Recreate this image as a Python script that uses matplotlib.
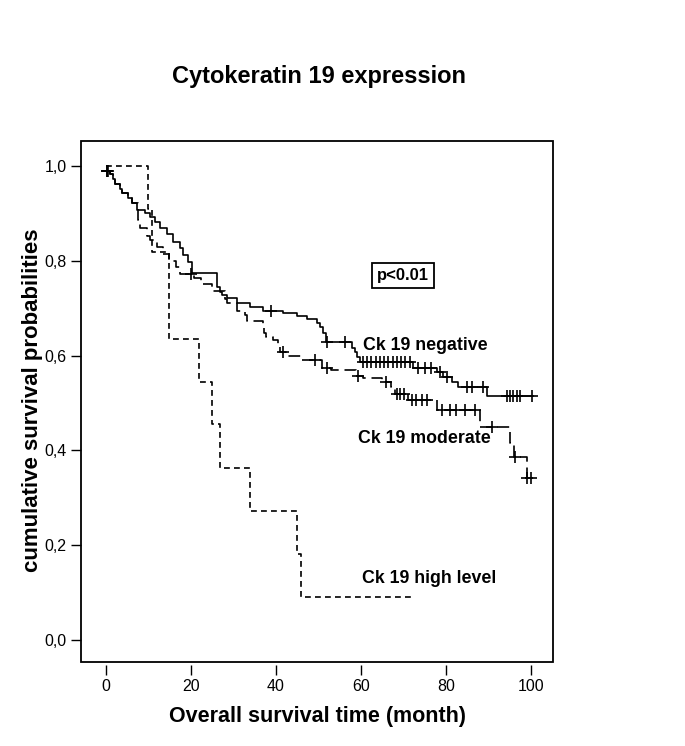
import numpy as np
import matplotlib.pyplot as plt
from matplotlib.patches import Rectangle

plt.rcParams['font.family'] = ['Liberation Sans', 'DejaVu Sans']

# Ck 19 negative (step times / survival after each step)
neg_time = [0, 1.0, 1.7, 2.2, 3.4, 3.9, 5.3, 6.2, 7.4, 9.2,
            10.4, 11.6, 12.8, 14.4, 15.8, 17.5, 18.2, 19.3, 20.3, 26.2,
            26.9, 27.3, 28.5, 30.9, 34.0, 37.0, 41.7, 45.0, 47.3, 49.6,
            50.4, 51.2, 51.8, 57.9, 58.6, 59.2, 59.8, 72.3, 78.0, 79.3,
            81.4, 82.8, 89.6, 100.4]
neg_surv = [0.99, 0.984, 0.972, 0.962, 0.952, 0.943, 0.933, 0.921, 0.908, 0.9,
            0.893, 0.881, 0.869, 0.857, 0.84, 0.826, 0.812, 0.797, 0.775, 0.745,
            0.735, 0.727, 0.721, 0.712, 0.703, 0.695, 0.69, 0.684, 0.677, 0.668,
            0.66, 0.648, 0.628, 0.617, 0.607, 0.597, 0.586, 0.575, 0.565, 0.554,
            0.544, 0.533, 0.514, 0.514]
neg_cens = [0.3, 0.6, 39.0, 52.0, 56.3, 60.5, 61.5, 62.5, 63.5, 64.5, 65.5,
            66.5, 67.5, 68.5, 69.5, 70.5, 71.5, 73.5, 75.0, 76.5, 78.6, 80.2,
            85.0, 86.2, 88.7, 94.3, 95.0, 95.8, 96.7, 97.4, 100.2]

# Ck 19 moderate
mod_time = [0, 1.0, 1.7, 2.2, 3.4, 3.9, 5.3, 6.2, 7.7, 8.0,
            9.7, 10.4, 12.0, 13.5, 15.0, 16.5, 17.5, 20.7, 22.5, 25.0,
            28.0, 28.5, 31.0, 32.8, 33.2, 37.0, 37.3, 37.8, 39.4, 40.5,
            41.0, 42.5, 46.0, 51.0, 53.0, 59.0, 60.5, 65.0, 67.0, 68.0,
            71.0, 78.0, 88.0, 95.0, 96.0, 99.0, 100.5]
mod_surv = [0.99, 0.984, 0.972, 0.962, 0.952, 0.943, 0.933, 0.921, 0.885, 0.87,
            0.853, 0.843, 0.83, 0.815, 0.80, 0.787, 0.773, 0.763, 0.752, 0.737,
            0.72, 0.712, 0.695, 0.685, 0.674, 0.664, 0.647, 0.639, 0.632, 0.622,
            0.607, 0.6, 0.59, 0.575, 0.569, 0.558, 0.553, 0.544, 0.533, 0.52,
            0.506, 0.485, 0.449, 0.415, 0.386, 0.343, 0.343]
mod_cens = [0.3, 20.0, 41.7, 49.2, 52.0, 59.4, 66.0, 68.5, 69.3, 70.2, 72.0,
            73.0, 74.5, 75.5, 79.0, 81.0, 82.5, 84.5, 86.9, 90.8, 96.2, 99.0, 100.0]

# Ck 19 high level
high_time = [0, 10, 11, 15, 22, 25, 27, 34, 45, 46, 72]
high_surv = [1.0, 0.909, 0.818, 0.636, 0.545, 0.455, 0.364, 0.273, 0.182, 0.091, 0.091]

xticks = [0, 20, 40, 60, 80, 100]
yticks = [0.0, 0.2, 0.4, 0.6, 0.8, 1.0]
ytick_labels = ['0,0', '0,2', '0,4', '0,6', '0,8', '1,0']


def surv_at(times, surv, t):
    idx = np.searchsorted(times, t, side='right') - 1
    return np.asarray(surv)[idx]


fig = plt.figure(figsize=(6.85, 7.46), dpi=100)
ax = fig.add_axes([0.1182, 0.1126, 0.689, 0.698])

lw = 1.2
ax.step(neg_time, neg_surv, where='post', color='black', lw=lw)
ax.step(mod_time, mod_surv, where='post', color='black', lw=lw, dashes=(7, 3.5))
ax.step(high_time, high_surv, where='post', color='black', lw=lw, dashes=(3.5, 2.5))

ax.plot(neg_cens, surv_at(neg_time, neg_surv, neg_cens), ls='none',
        marker='+', ms=8, mew=1.2, color='black')
ax.plot(mod_cens, surv_at(mod_time, mod_surv, mod_cens), ls='none',
        marker='+', ms=8, mew=1.2, color='black')

ax.set_xlim(-5.8, 105.2)
ax.set_ylim(-0.046, 1.052)

for s in ax.spines.values():
    s.set_visible(False)
ax.spines['bottom'].set_position(('outward', 2))
ax.add_patch(Rectangle((0, 0), 1, 1, transform=ax.transAxes, fill=False,
                       lw=1.3, ec='black', clip_on=False))

ax.set_xticks(xticks)
ax.set_yticks(yticks)
ax.set_yticklabels(ytick_labels)
ax.tick_params(direction='out', length=7.5, width=1.0, labelsize=11.5, pad=3)

lab = dict(fontsize=12.8, fontweight='bold', va='center')
ax.text(60.5, 0.622, 'Ck 19 negative', **lab)
ax.text(59.3, 0.426, 'Ck 19 moderate', **lab)
ax.text(60.3, 0.131, 'Ck 19 high level', **lab)
ax.text(69.9, 0.77, 'p<0.01', fontsize=12, fontweight='bold', ha='center', va='center',
        bbox=dict(boxstyle='square,pad=0.3', fc='white', ec='black', lw=1.3))

fig.text(0.466, 0.897, 'Cytokeratin 19 expression', fontsize=17, fontweight='bold',
         ha='center', va='center')
fig.text(0.463, 0.04, 'Overall survival time (month)', fontsize=15.5, fontweight='bold',
         ha='center', va='center')
fig.text(0.048, 0.464, 'cumulative survival probabilities', fontsize=16,
         fontweight='bold', ha='center', va='center', rotation=90)

fig.savefig('out.png', dpi=100)
